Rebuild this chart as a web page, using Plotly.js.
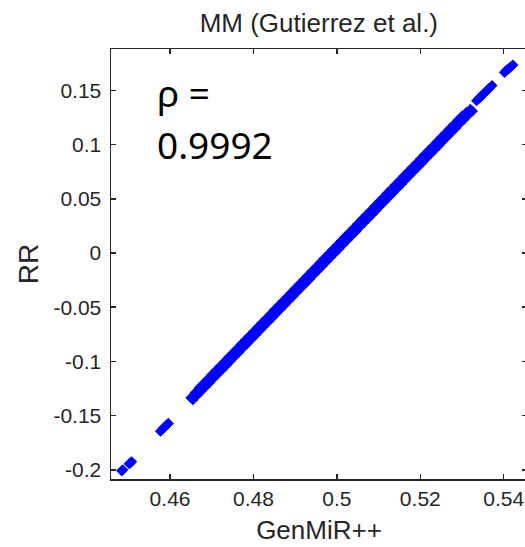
<!DOCTYPE html>
<html>
<head>
<meta charset="utf-8">
<script src="https://cdn.plot.ly/plotly-3.0.1.min.js"></script>
<style>
html,body{margin:0;padding:0;overflow:hidden;background:#fff;}
#chart{width:527px;height:547px;}
</style>
</head>
<body>
<div id="chart"></div>
<script>
// GenMiR++ score (x) vs RR score (y)
const genmirX = [
  0.4484, 0.4487,
  0.4502, 0.4505, 0.4508,
  0.4577, 0.4581, 0.4585, 0.4589, 0.4593, 0.4596,
  0.465, 0.4655, 0.466, 0.4665, 0.467, 0.4675, 0.468, 0.4685, 0.469, 0.4695,
  0.470, 0.4705, 0.471, 0.4715, 0.472, 0.4725, 0.473, 0.4735, 0.474, 0.4745,
  0.475, 0.4755, 0.476, 0.4765, 0.477, 0.4775, 0.478, 0.4785, 0.479, 0.4795,
  0.480, 0.4805, 0.481, 0.4815, 0.482, 0.4825, 0.483, 0.4835, 0.484, 0.4845,
  0.485, 0.4855, 0.486, 0.4865, 0.487, 0.4875, 0.488, 0.4885, 0.489, 0.4895,
  0.490, 0.4905, 0.491, 0.4915, 0.492, 0.4925, 0.493, 0.4935, 0.494, 0.4945,
  0.495, 0.4955, 0.496, 0.4965, 0.497, 0.4975, 0.498, 0.4985, 0.499, 0.4995,
  0.500, 0.5005, 0.501, 0.5015, 0.502, 0.5025, 0.503, 0.5035, 0.504, 0.5045,
  0.505, 0.5055, 0.506, 0.5065, 0.507, 0.5075, 0.508, 0.5085, 0.509, 0.5095,
  0.510, 0.5105, 0.511, 0.5115, 0.512, 0.5125, 0.513, 0.5135, 0.514, 0.5145,
  0.515, 0.5155, 0.516, 0.5165, 0.517, 0.5175, 0.518, 0.5185, 0.519, 0.5195,
  0.520, 0.5205, 0.521, 0.5215, 0.522, 0.5225, 0.523, 0.5235, 0.524, 0.5245,
  0.525, 0.5255, 0.526, 0.5265, 0.527, 0.5275, 0.528, 0.5285, 0.529, 0.5295,
  0.530, 0.5305, 0.531, 0.5315, 0.532, 0.5325,
  0.5335, 0.5340, 0.5345, 0.5350, 0.5355, 0.5360, 0.5365, 0.5372,
  0.5402, 0.5405, 0.5408, 0.5412, 0.5416, 0.5422
];
const rrY = [
  -0.2010, -0.2000,
  -0.1945, -0.1935, -0.1925,
  -0.1645, -0.1628, -0.1612, -0.1598, -0.1582, -0.1572,
  -0.1335, -0.1353, -0.1290, -0.1313, -0.1243, -0.1273, -0.1204, -0.1234, -0.1164, -0.1194,
  -0.1124, -0.1154, -0.1084, -0.1114, -0.1044, -0.1074, -0.1005, -0.1035, -0.0965, -0.0995,
  -0.0925, -0.0955, -0.0885, -0.0915, -0.0845, -0.0875, -0.0806, -0.0836, -0.0766, -0.0796,
  -0.0726, -0.0756, -0.0686, -0.0716, -0.0646, -0.0676, -0.0607, -0.0637, -0.0567, -0.0597,
  -0.0527, -0.0557, -0.0487, -0.0517, -0.0447, -0.0477, -0.0408, -0.0438, -0.0368, -0.0398,
  -0.0328, -0.0358, -0.0288, -0.0318, -0.0248, -0.0278, -0.0209, -0.0239, -0.0169, -0.0199,
  -0.0129, -0.0159, -0.0089, -0.0119, -0.0049, -0.0079, -0.0010, -0.0040, 0.0030, 0.0000,
  0.0070, 0.0040, 0.0110, 0.0080, 0.0150, 0.0120, 0.0189, 0.0159, 0.0229, 0.0199,
  0.0269, 0.0239, 0.0309, 0.0279, 0.0349, 0.0319, 0.0388, 0.0358, 0.0428, 0.0398,
  0.0468, 0.0438, 0.0508, 0.0478, 0.0548, 0.0518, 0.0587, 0.0557, 0.0627, 0.0597,
  0.0667, 0.0637, 0.0707, 0.0677, 0.0747, 0.0717, 0.0786, 0.0756, 0.0826, 0.0796,
  0.0866, 0.0836, 0.0906, 0.0876, 0.0946, 0.0916, 0.0985, 0.0955, 0.1025, 0.0995,
  0.1065, 0.1035, 0.1105, 0.1075, 0.1145, 0.1115, 0.1184, 0.1154, 0.1224, 0.1194,
  0.1264, 0.1234, 0.1295, 0.1274, 0.1325, 0.1310,
  0.1405, 0.1425, 0.1440, 0.1465, 0.1480, 0.1500, 0.1520, 0.1545,
  0.1665, 0.1680, 0.1690, 0.1700, 0.1715, 0.1735
];
const xTickVals = [0.46, 0.48, 0.5, 0.52, 0.54];
const xTickText = ['0.46', '0.48', '0.5', '0.52', '0.54'];
const yTickVals = [-0.2, -0.15, -0.1, -0.05, 0, 0.05, 0.1, 0.15];
const yTickText = ['-0.2', '-0.15', '-0.1', '-0.05', '0', '0.05', '0.1', '0.15'];
const titleText = 'MM (Gutierrez et al.)';
const xLabel = 'GenMiR++';
const yLabel = 'RR';
const rhoLine1 = 'ρ =';
const rhoLine2 = '0.9992';

const axisCommon = {
  showline: true, mirror: 'ticks', linecolor: '#262626', linewidth: 1.5,
  ticks: 'inside', ticklen: 5, tickwidth: 1.5, tickcolor: '#262626',
  showgrid: false, zeroline: false,
  tickfont: {family: 'Liberation Sans, Arial, sans-serif', size: 21, color: '#262626'},
  tickmode: 'array'
};

const data = [{
  type: 'scatter', mode: 'markers',
  x: genmirX, y: rrY,
  marker: {symbol: 'diamond', size: 8.5, color: '#0000ff', line: {width: 0}},
  hoverinfo: 'x+y'
}];

const layout = {
  width: 527, height: 547,
  margin: {l: 111, r: 0, t: 49, b: 68},
  paper_bgcolor: '#ffffff', plot_bgcolor: '#ffffff',
  showlegend: false,
  title: {
    text: titleText, x: 0.605, xanchor: 'center', xref: 'container',
    y: 0.9587, yanchor: 'middle', yref: 'container',
    font: {family: 'Liberation Sans, Arial, sans-serif', size: 26, color: '#262626'}
  },
  xaxis: Object.assign({}, axisCommon, {
    range: [0.44584, 0.54558],
    tickvals: xTickVals, ticktext: xTickText,
    ticklabelstandoff: 0,
    title: {text: xLabel, standoff: 12,
      font: {family: 'Liberation Sans, Arial, sans-serif', size: 26, color: '#262626'}}
  }),
  yaxis: Object.assign({}, axisCommon, {
    range: [-0.2085, 0.1882],
    tickvals: yTickVals, ticktext: yTickText,
    ticklabelstandoff: 4,
    title: {text: yLabel, standoff: 6.5,
      font: {family: 'Liberation Sans, Arial, sans-serif', size: 28, color: '#262626'}}
  }),
  annotations: [
    {text: rhoLine1, xref: 'paper', yref: 'paper', x: 0.1048, y: 0.898,
     xanchor: 'left', yanchor: 'middle', showarrow: false, align: 'left',
     font: {family: 'Noto Sans, Open Sans, sans-serif', size: 37, color: '#000000'}},
    {text: rhoLine2, xref: 'paper', yref: 'paper', x: 0.1048, y: 0.779,
     xanchor: 'left', yanchor: 'middle', showarrow: false, align: 'left',
     font: {family: 'Noto Sans, Open Sans, sans-serif', size: 37, color: '#000000'}}
  ]
};

Plotly.newPlot('chart', data, layout, {displayModeBar: false, staticPlot: true});
</script>
</body>
</html>
